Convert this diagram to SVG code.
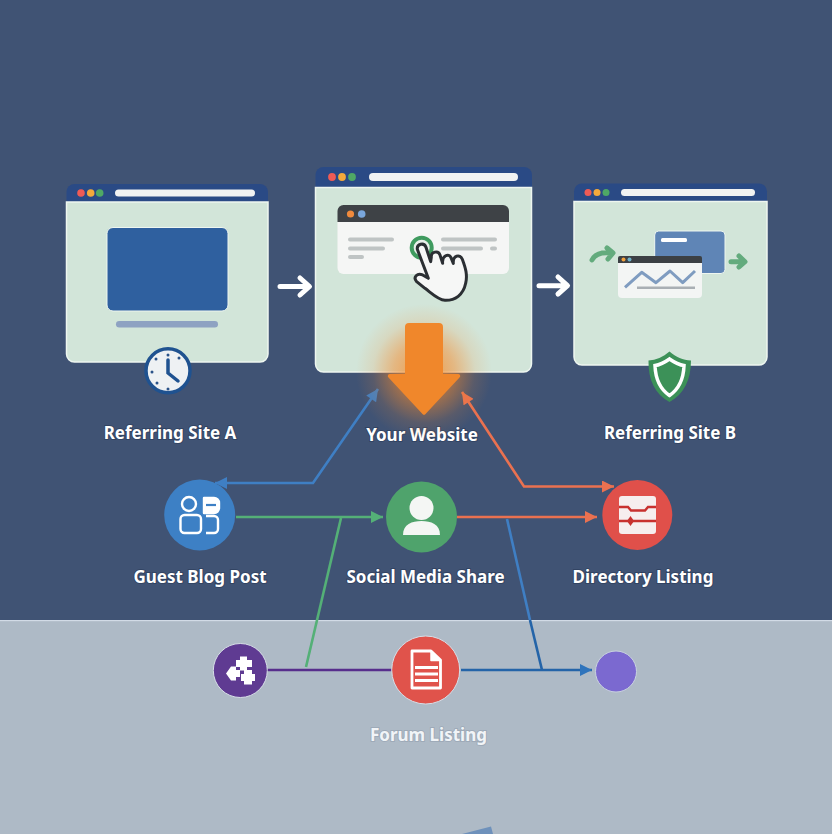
<svg xmlns="http://www.w3.org/2000/svg" width="832" height="834" viewBox="0 0 832 834">
<style>
.lbl{font-family:"Noto Sans","Open Sans",sans-serif;font-weight:700;font-size:17px;fill:#fff;text-anchor:middle;stroke:#22324f;stroke-opacity:.45;stroke-width:2px;paint-order:stroke}
.win{fill:#d2e5d9;stroke:#eef6f0;stroke-width:1.5}
.head{fill:#2a4a85}
.url{fill:#f1f2f2}
.gline{stroke:#bfc4c4;stroke-width:4;stroke-linecap:round;fill:none}
.conn{fill:none;stroke-width:2.6;stroke-linejoin:miter}
.wa{fill:none;stroke:#fff;stroke-width:5;stroke-linecap:round;stroke-linejoin:round}
.ico{fill:none;stroke:#fff;stroke-width:2.4;stroke-linejoin:round}
.ga{fill:none;stroke:#63ab7d;stroke-width:5;stroke-linecap:round;stroke-linejoin:round}
</style>
<defs>
<marker id="mb" viewBox="0 0 12 12" refX="12" refY="6" markerUnits="userSpaceOnUse" markerWidth="13" markerHeight="12" orient="auto-start-reverse"><path d="M0 0L12 6L0 12Z" fill="#3f7fc4"/></marker>
<marker id="mo" viewBox="0 0 12 12" refX="12" refY="6" markerUnits="userSpaceOnUse" markerWidth="13" markerHeight="12" orient="auto-start-reverse"><path d="M0 0L12 6L0 12Z" fill="#ea7150"/></marker>
<marker id="mg" viewBox="0 0 12 12" refX="12" refY="6" markerUnits="userSpaceOnUse" markerWidth="13" markerHeight="12" orient="auto-start-reverse"><path d="M0 0L12 6L0 12Z" fill="#54b077"/></marker>
<marker id="md" viewBox="0 0 12 12" refX="12" refY="6" markerUnits="userSpaceOnUse" markerWidth="13" markerHeight="12" orient="auto-start-reverse"><path d="M0 0L12 6L0 12Z" fill="#2f74bc"/></marker>
<radialGradient id="glow"><stop offset="0" stop-color="#f78a25" stop-opacity=".85"/><stop offset=".45" stop-color="#f58a2c" stop-opacity=".5"/><stop offset=".75" stop-color="#f58a2c" stop-opacity=".14"/><stop offset="1" stop-color="#f58a2c" stop-opacity="0"/></radialGradient>
</defs>
<rect width="832" height="620" fill="#405374"/>
<rect y="620" width="832" height="214" fill="#aebac6"/>
<rect y="620" width="832" height="1.2" fill="#d2dbe6"/>
<path d="M462 834L491 826.500L493 834Z" fill="#6e91bb"/>

<g id="site-a">
<path class="head" d="M66.500 202V192a8 8 0 0 1 8-8H260a8 8 0 0 1 8 8V202Z"/>
<path class="win" d="M66.500 202H268V354a8 8 0 0 1-8 8H74.500a8 8 0 0 1-8-8Z"/>
<circle cx="81" cy="193" r="3.800" fill="#ef5b55"/><circle cx="90.700" cy="193" r="3.800" fill="#f4a93b"/><circle cx="99.700" cy="193" r="3.800" fill="#4fa865"/>
<rect class="url" x="115" y="189.500" width="140" height="7" rx="3.500"/>
<rect x="107" y="227.500" width="121" height="83.500" rx="6" fill="#2f609f" stroke="#eef6f0" stroke-width="1"/>
<rect x="116" y="321" width="102" height="6.500" rx="3.200" fill="#8ea2c2"/>
<circle cx="168" cy="370.700" r="22" fill="#eef1f3" stroke="#1f5290" stroke-width="3.500"/>
<path d="M168 360V373L178 381" fill="none" stroke="#1f5290" stroke-width="3.500" stroke-linecap="round"/>
<g fill="#2a5288"><circle cx="168" cy="355" r="1.500"/><circle cx="179" cy="358" r="1.500"/><circle cx="152" cy="372" r="1.500"/><circle cx="157" cy="383" r="1.500"/><circle cx="168" cy="389" r="1.500"/><circle cx="156" cy="359" r="1.500"/></g>
<text class="lbl" x="170" y="438.500">Referring Site A</text>
</g>

<g id="site-center">
<path class="head" d="M315.500 187V175a8 8 0 0 1 8-8H524a8 8 0 0 1 8 8V187Z"/>
<path class="win" d="M315.500 187.500H531.500V364a8 8 0 0 1-8 8H323.500a8 8 0 0 1-8-8Z"/>
<circle cx="332" cy="177" r="3.900" fill="#ef5b55"/><circle cx="342" cy="177" r="3.900" fill="#f4a93b"/><circle cx="352" cy="177" r="3.900" fill="#4fa865"/>
<rect class="url" x="369" y="173" width="149" height="8" rx="4"/>
<path d="M337.500 222H509V268a6 6 0 0 1-6 6H343.500a6 6 0 0 1-6-6Z" fill="#f5f6f5"/>
<path d="M337.500 222V211a6 6 0 0 1 6-6H503a6 6 0 0 1 6 6V222Z" fill="#3e4246"/>
<circle cx="350.500" cy="214" r="3.600" fill="#f08a3c"/><circle cx="361.700" cy="214" r="3.800" fill="#7aa7dc"/>
<path class="gline" d="M350 239.500H392M350 248.500H383M350 257H362M443 239.500H495M443 248.500H481M492 248.500H495"/>
<circle cx="421.700" cy="247.700" r="10" fill="#e8f0ea" stroke="#3f9b5f" stroke-width="4"/>
<g transform="translate(300 160) scale(.3333)">
<path d="M352 268C350 252 372 246 378 262L392 305L394 292C392 275 415 270 420 285L428 310C425 287 447 278 453 293L460 310C458 287 480 280 487 298C497 325 503 345 497 370C490 405 465 422 435 421C415 420 395 400 375 385L350 365C338 352 352 338 368 345L385 355Z" fill="#f6f7f6" stroke="#2b2f33" stroke-width="9" stroke-linejoin="round"/>
</g>
<text class="lbl" x="422" y="441">Your Website</text>
</g>

<g id="site-b">
<path class="head" d="M574 201V191.500a8 8 0 0 1 8-8H759a8 8 0 0 1 8 8V201Z"/>
<path class="win" d="M574 201.500H767V357a8 8 0 0 1-8 8H582a8 8 0 0 1-8-8Z"/>
<circle cx="588" cy="192.500" r="3.500" fill="#ef5b55"/><circle cx="597" cy="192.500" r="3.500" fill="#f4a93b"/><circle cx="606" cy="192.500" r="3.500" fill="#4fa865"/>
<rect class="url" x="621" y="189" width="134" height="7" rx="3.500"/>
<rect x="654.700" y="231" width="70.300" height="42.500" rx="4" fill="#5f85b6" stroke="#eef6f0"/>
<rect x="661" y="238" width="26" height="4" rx="1.500" fill="#fff"/>
<path d="M618 263H702V294a4 4 0 0 1-4 4H622a4 4 0 0 1-4-4Z" fill="#f3f5f4"/>
<path d="M618 263V258a2 2 0 0 1 2-2H700a2 2 0 0 1 2 2V263Z" fill="#3c4044"/>
<circle cx="623.500" cy="259.500" r="2" fill="#f0a03c"/><circle cx="629.500" cy="259.500" r="2" fill="#6fb0c8"/>
<path d="M625 287.300L641.700 272.300L656 282.700L670 271L682.700 282.700L695 271" fill="none" stroke="#7f9cc0" stroke-width="3" stroke-linejoin="round"/>
<path d="M637 287.800H695" stroke="#a9afb4" stroke-width="2.500"/>
<path class="ga" d="M592 260C595 254 602 252 611 253M607 248L613 253L608 259"/>
<path class="ga" d="M731 261.700H744M739 256L745 261.700L739 267"/>
<path d="M669.500 351.500C663 357 656 360 648.500 360.500C648 380 655 394 669.500 402C684 394 691 380 691 360.500C683 360 676 357 669.500 351.500Z" fill="#3c9158"/>
<path d="M669.500 359C664.500 362.500 660 365 655 365.500C655.500 380 660 389 669.500 395.500C679 389 683.500 380 684 365.500C679 365 674.500 362.500 669.500 359Z" fill="#3c9158" stroke="#fff" stroke-width="3.500"/>
<text class="lbl" x="670" y="438.500">Referring Site B</text>
</g>

<g id="flow-arrows">
<path class="wa" d="M280 286.500H308M300 278L309.500 286.500L300 295"/>
<path class="wa" d="M539 285.700H566M558 277L567.500 285.700L558 294"/>
</g>

<g id="connectors">
<polyline class="conn" stroke="#3f7fc4" points="378,389 313,483 215,483" marker-start="url(#mb)" marker-end="url(#mb)"/>
<polyline class="conn" stroke="#ea7150" points="462,392 524,486.500 614,486.500" marker-start="url(#mo)" marker-end="url(#mo)"/>
<line class="conn" stroke="#54b077" x1="236" y1="517" x2="383" y2="517" marker-end="url(#mg)"/>
<line class="conn" stroke="#54b077" x1="341" y1="518" x2="306" y2="667"/>
<line class="conn" stroke="#ea7150" x1="457" y1="517" x2="597" y2="517" marker-end="url(#mo)"/>
<line class="conn" stroke="#3f7fc4" x1="507" y1="519" x2="530" y2="620"/>
<line class="conn" stroke="#2464a8" x1="530" y1="620" x2="542" y2="670"/>
<line class="conn" stroke="#572e8c" x1="266" y1="670" x2="392" y2="670"/>
<line class="conn" stroke="#2464a8" x1="461" y1="670" x2="592" y2="670" marker-end="url(#md)"/>
</g>

<g id="orange-arrow">
<circle cx="424" cy="372" r="68" fill="url(#glow)"/>
<path d="M409 323H439a4 4 0 0 1 4 4V374H458a2 2 0 0 1 1.500 3.500L425.500 414a2 2 0 0 1-3 0L388.500 377.500a2 2 0 0 1 1.500-3.500H405V327a4 4 0 0 1 4-4Z" fill="#f0872b"/>
</g>

<g id="guest-blog-post">
<circle cx="199.700" cy="515" r="35.500" fill="#3d80c5"/>
<g class="ico"><circle cx="189" cy="504" r="7"/><rect x="180.500" y="515" width="20.500" height="18" rx="4"/><path d="M204 498H214a5 5 0 0 1 5 5V508a5 5 0 0 1-5 5H204Z" fill="#fff"/><path d="M206 516H214a4 4 0 0 1 4 4V529a4 4 0 0 1-4 4H206"/></g>
<path d="M206 505H216" stroke="#3d80c5" stroke-width="2.200"/>
<text class="lbl" x="200" y="582.500">Guest Blog Post</text>
</g>

<g id="social-media-share">
<circle cx="421.500" cy="517" r="35.500" fill="#4fa36c"/>
<circle cx="421.500" cy="508" r="12" fill="#f4f6f4"/>
<path d="M403 535C403 524 412 521 421.500 521C431 521 440 524 440 535Z" fill="#f4f6f4"/>
<text class="lbl" x="425.500" y="582.500">Social Media Share</text>
</g>

<g id="directory-listing">
<circle cx="637.300" cy="515" r="35" fill="#e0504a"/>
<rect x="619" y="496" width="37" height="38" rx="3" fill="#f6eeee"/>
<path d="M619 507H628L631 510.500H645L648 507H656M619 521H656" fill="none" stroke="#c8312f" stroke-width="2.400"/>
<path d="M630.500 516L634 521L630.500 526L627 521Z" fill="#c8312f"/>
<text class="lbl" x="643" y="582.500">Directory Listing</text>
</g>

<g id="partner-node">
<circle cx="240.300" cy="670.500" r="27" fill="#5f3b92" stroke="#d7dee7" stroke-width="1"/>
<g fill="#fff"><path d="M240 656.500H247V660H252V667H247V670.500H240V667H236V660H240Z"/><path d="M231 666.500H236V670H240V677H236V680.500H231L226 673.500Z"/><path d="M244 670H252V674H255V681H252V684.500H244V681H241V674H244Z"/></g>
</g>

<g id="forum-listing">
<circle cx="425.700" cy="670" r="34" fill="#e0534b" stroke="#d7dee7" stroke-width="1"/>
<path d="M412 651H431L440.500 660V688H412Z" fill="#e0534b" stroke="#fff" stroke-width="2.800" stroke-linejoin="round"/>
<path d="M431 651V660.500H440.500Z" fill="#fff" stroke="#fff" stroke-width="1.500" stroke-linejoin="round"/>
<path d="M415 667.500H438M415 674H438M415 680.500H438" stroke="#fff" stroke-width="3"/>
<text class="lbl" x="428.500" y="741" style="fill:#f1f4f7;stroke:#8b97a6">Forum Listing</text>
</g>

<g id="violet-node">
<circle cx="616" cy="671.500" r="20.500" fill="#7b69d0" stroke="#c9d2e0" stroke-width="1"/>
</g>
</svg>
